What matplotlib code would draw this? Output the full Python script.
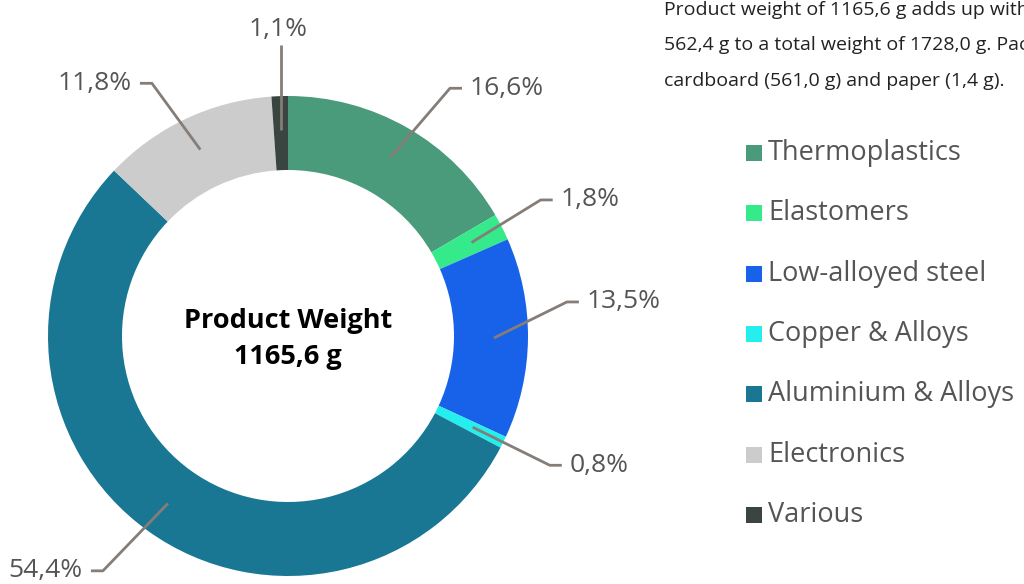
import numpy as np
import matplotlib
matplotlib.use("Agg")
import matplotlib.pyplot as plt

# data
materials = ["Thermoplastics", "Elastomers", "Low-alloyed steel", "Copper & Alloys",
             "Aluminium & Alloys", "Electronics", "Various"]
shares = [16.6, 1.8, 13.5, 0.8, 54.4, 11.8, 1.1]
colors = ["#4a9a7c", "#35ea8a", "#1862ea", "#25eeee", "#1a7794", "#cccccc", "#3a4440"]
product_weight = "1165,6 g"
note_lines = [
    "Product weight of 1165,6 g adds up with packaging weight of",
    "562,4 g to a total weight of 1728,0 g. Packaging consists of",
    "cardboard (561,0 g) and paper (1,4 g).",
]

# layout: small angle nudges (deg) so the labels spread like the original
label_nudge = [-3.3, 1.3, 7.5, 0.0, -2.6, 3.1, -1.0]
elbow_r = [296, 287, 281, 292, 299, 287, 291]

plt.rcParams["font.family"] = ["Open Sans", "DejaVu Sans"]
TXT = "#555555"
LINE = "#857d78"

W, H = 1024, 584
fig = plt.figure(figsize=(W / 100, H / 100), dpi=100)
ax = fig.add_axes([0, 0, 1, 1])

cx, cy, R, ring = 288, H - 336, 240, 74
wedges, _ = ax.pie(shares, colors=colors, startangle=90, counterclock=False,
                   center=(cx, cy), radius=R, frame=True,
                   wedgeprops=dict(width=ring, linewidth=0))
ax.set_xlim(0, W)
ax.set_ylim(0, H)
ax.set_aspect("equal")
ax.axis("off")

# leader lines + percent labels
r_in = 206
for w, val, nud, r_elb in zip(wedges, shares, label_nudge, elbow_r):
    mid = np.deg2rad((w.theta1 + w.theta2) / 2)
    ang = mid + np.deg2rad(nud)
    x0, y0 = cx + r_in * np.cos(mid), cy + r_in * np.sin(mid)
    x1, y1 = cx + r_elb * np.cos(ang), cy + r_elb * np.sin(ang)
    lab = f"{val:.1f}%".replace(".", ",")
    if abs(np.cos(ang)) < 0.1:
        ax.plot([x0, x0], [y0, y1], color=LINE, lw=2, solid_capstyle="butt")
        ax.text(x0 - 3, y1 + 3, lab, ha="center", va="bottom", fontsize=19, color=TXT)
        continue
    side = 1 if np.cos(ang) > 0 else -1
    x2 = x1 + side * 12
    ax.plot([x0, x1, x2], [y0, y1, y1], color=LINE, lw=2, solid_capstyle="butt")
    ax.text(x2 + side * 8, y1, lab, ha="left" if side > 0 else "right",
            va="center", fontsize=19, color=TXT)

ax.text(cx, cy + 15, "Product Weight", ha="center", va="center",
        fontsize=19.5, fontweight="bold", color="black")
ax.text(cx, cy - 21, product_weight, ha="center", va="center",
        fontsize=19.5, fontweight="bold", color="black")

# legend
for i, (name, col) in enumerate(zip(materials, colors)):
    y = H - (153 + i * 60.3)
    ax.scatter([754], [y], marker="s", s=120, color=col, linewidths=0)
    ax.text(768, y, name, ha="left", va="center", fontsize=19.5, color=TXT)

for i, line in enumerate(note_lines):
    ax.text(664, H - (10 + i * 35.5), line, ha="left", va="center",
            fontsize=14, color="#222222")

fig.savefig("out.png", dpi=100)
